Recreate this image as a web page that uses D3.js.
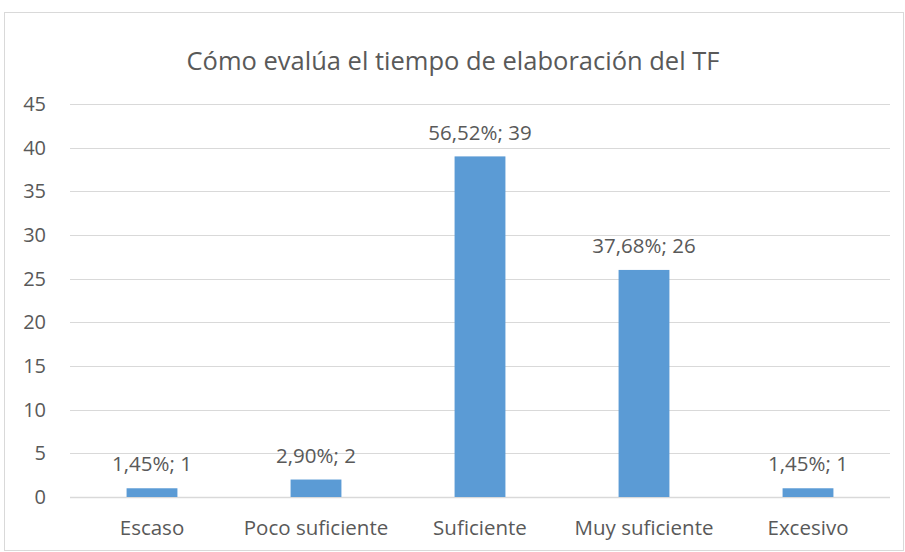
<!DOCTYPE html>
<html>
<head>
<meta charset="utf-8">
<script src="https://cdn.jsdelivr.net/npm/d3@7"></script>
<style>
  body { margin: 0; background: #fff; }
  text { font-family: "Open Sans", "Noto Sans", sans-serif; fill: #595959; }
</style>
</head>
<body>
<div id="chart"></div>
<script>
const categories = ["Escaso", "Poco suficiente", "Suficiente", "Muy suficiente", "Excesivo"];
const counts = [1, 2, 39, 26, 1];
const percents = ["1,45%", "2,90%", "56,52%", "37,68%", "1,45%"];
const yTicks = [0, 5, 10, 15, 20, 25, 30, 35, 40, 45];

const width = 905;
const height = 552;
const margin = { top: 104, right: 15, bottom: 55, left: 70 };

const svg = d3.select("#chart").append("svg")
    .attr("width", width)
    .attr("height", height);

// chart border
svg.append("rect")
    .attr("x", 4.5)
    .attr("y", 12.5)
    .attr("width", 899)
    .attr("height", 538)
    .attr("fill", "none")
    .attr("stroke", "#d9d9d9");

svg.append("text")
    .attr("x", 453)
    .attr("y", 70)
    .attr("text-anchor", "middle")
    .style("font-size", "25.5px")
    .text("Cómo evalúa el tiempo de elaboración del TF");

const x = d3.scaleBand()
    .domain(categories)
    .range([margin.left, width - margin.right]);

const y = d3.scaleLinear()
    .domain([0, 45])
    .range([height - margin.bottom, margin.top]);

const g = svg.append("g");

g.selectAll(".grid")
    .data(yTicks)
    .enter().append("line")
    .attr("class", "grid")
    .attr("x1", margin.left)
    .attr("x2", width - margin.right)
    .attr("y1", d => Math.round(y(d)) + 0.5)
    .attr("y2", d => Math.round(y(d)) + 0.5)
    .attr("stroke", "#d9d9d9")
    .attr("stroke-width", d => d === 0 ? 1.5 : 1);

g.selectAll(".ytick")
    .data(yTicks)
    .enter().append("text")
    .attr("class", "ytick")
    .attr("x", 46)
    .attr("y", d => y(d))
    .attr("dy", "0.35em")
    .attr("text-anchor", "end")
    .style("font-size", "20px")
    .text(d => d);

const barW = x.bandwidth() * 0.31;

g.selectAll(".bar")
    .data(counts)
    .enter().append("rect")
    .attr("class", "bar")
    .attr("x", (d, i) => x(categories[i]) + x.bandwidth() / 2 - barW / 2)
    .attr("y", d => y(d))
    .attr("width", barW)
    .attr("height", d => y(0) - y(d))
    .attr("fill", "#5b9bd5");

g.selectAll(".label")
    .data(counts)
    .enter().append("text")
    .attr("class", "label")
    .attr("x", (d, i) => x(categories[i]) + x.bandwidth() / 2)
    .attr("y", d => y(d) - 24)
    .attr("dy", "0.35em")
    .attr("text-anchor", "middle")
    .style("font-size", "20.5px")
    .text((d, i) => percents[i] + "; " + d);

g.selectAll(".xtick")
    .data(categories)
    .enter().append("text")
    .attr("class", "xtick")
    .attr("x", d => x(d) + x.bandwidth() / 2)
    .attr("y", y(0) + 31)
    .attr("dy", "0.35em")
    .attr("text-anchor", "middle")
    .style("font-size", "20.5px")
    .text(d => d);
</script>
</body>
</html>
